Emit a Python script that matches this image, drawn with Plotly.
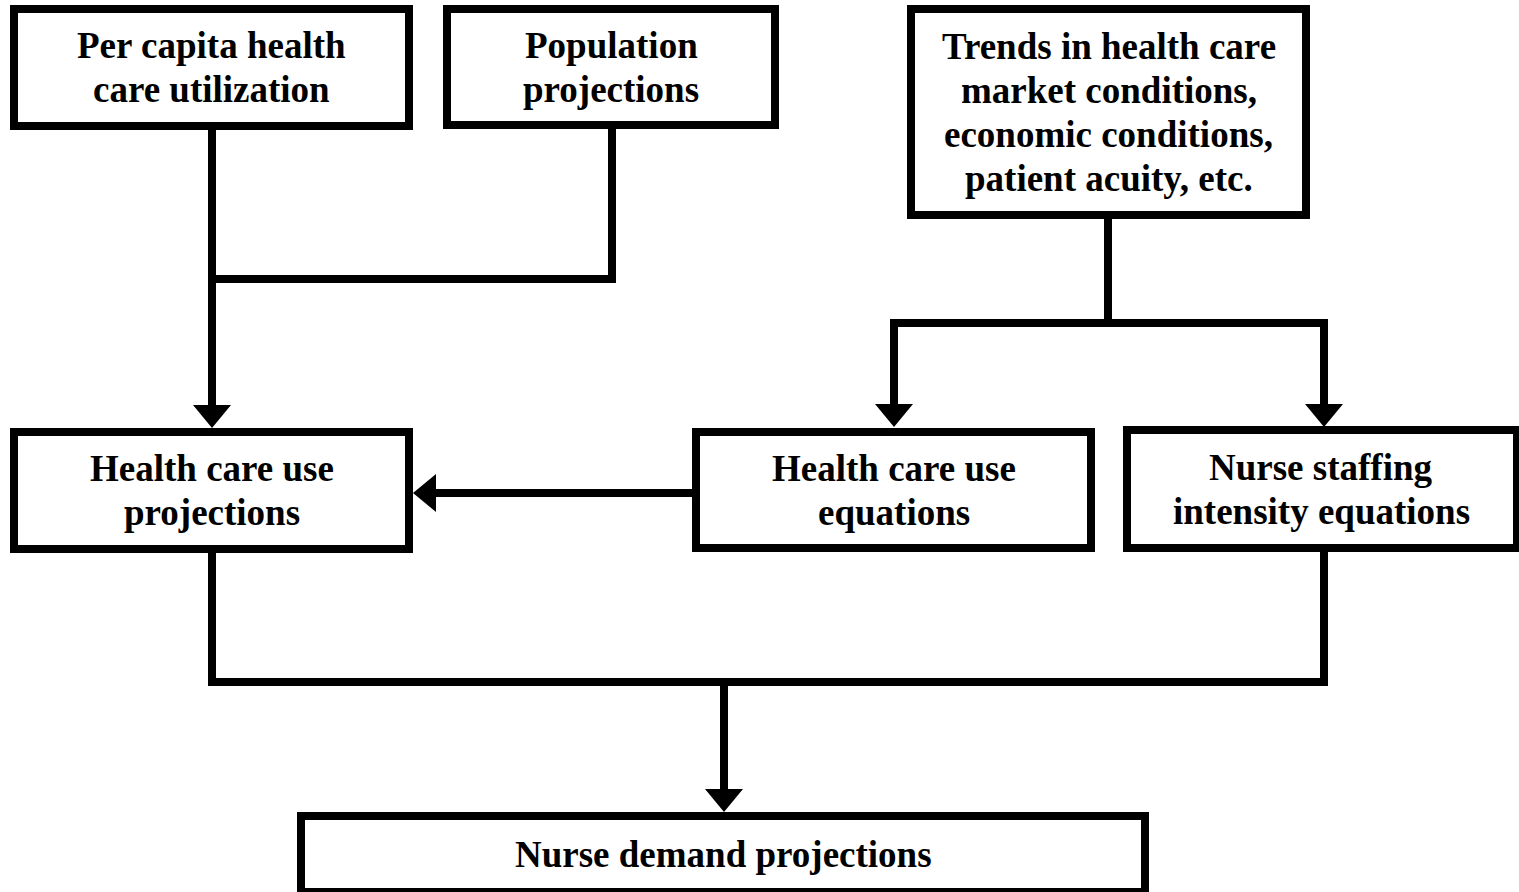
import plotly.graph_objects as go

# ---- content -------------------------------------------------------------
box_names = ["percap", "pop", "trends", "usep", "usee", "staff", "demand"]
box_lines = {
    "percap": ["Per capita health", "care utilization"],
    "pop": ["Population", "projections"],
    "trends": ["Trends in health care", "market conditions,",
               "economic conditions,", "patient acuity, etc."],
    "usep": ["Health care use", "projections"],
    "usee": ["Health care use", "equations"],
    "staff": ["Nurse staffing", "intensity equations"],
    "demand": ["Nurse demand projections"],
}

# ---- layout geometry (pixels, outer edges of each box) --------------------
W, H = 1519, 892
BORDER = 8
box_geom = {
    "percap": (10, 413, 5, 130),
    "pop": (443, 779, 5, 129),
    "trends": (907, 1310, 5, 219),
    "usep": (10, 413, 428, 553),
    "usee": (692, 1095, 428, 552),
    "staff": (1123, 1521, 426, 552),
    "demand": (297, 1149, 812, 896),
}
LINE_GAP = 44
FONT_SIZE = 37

# connector polylines (centre lines)
connectors = [
    [(212, 130), (212, 406)],
    [(612, 129), (612, 279), (212, 279)],
    [(1108, 219), (1108, 323), (894, 323), (894, 404)],
    [(1108, 323), (1324, 323), (1324, 404)],
    [(692, 493), (434, 493)],
    [(212, 553), (212, 682), (1324, 682), (1324, 552)],
    [(724, 682), (724, 789)],
]
# arrowheads: (tip x, tip y, direction)
arrows = [(212, 428, "down"), (894, 427, "down"), (1324, 427, "down"),
          (413, 493, "left"), (724, 812, "down")]
HEAD_HALF, HEAD_LEN = 19, 23

fig = go.Figure()
shapes = []
for name in box_names:
    x0, x1, y0, y1 = box_geom[name]
    h = BORDER / 2
    shapes.append(dict(type="rect", xref="x", yref="y",
                       x0=x0 + h, x1=x1 - h, y0=y0 + h, y1=y1 - h,
                       line=dict(color="black", width=BORDER),
                       fillcolor="white", layer="above"))
for pts in connectors:
    path = "M" + " L".join(f"{x},{y}" for x, y in pts)
    shapes.append(dict(type="path", xref="x", yref="y", path=path,
                       line=dict(color="black", width=BORDER), layer="below"))
for tx, ty, d in arrows:
    if d == "down":
        p = f"M{tx-HEAD_HALF},{ty-HEAD_LEN} L{tx+HEAD_HALF},{ty-HEAD_LEN} L{tx},{ty} Z"
    else:
        p = f"M{tx+HEAD_LEN},{ty-HEAD_HALF} L{tx+HEAD_LEN},{ty+HEAD_HALF} L{tx},{ty} Z"
    shapes.append(dict(type="path", xref="x", yref="y", path=p,
                       fillcolor="black", line=dict(width=0), layer="above"))

annotations = []
for name in box_names:
    x0, x1, y0, y1 = box_geom[name]
    cx = (x0 + min(x1, W + 2)) / 2
    if name == "staff":
        cx = (x0 + 1519) / 2
    cy = (y0 + y1) / 2
    lines = box_lines[name]
    n = len(lines)
    for i, t in enumerate(lines):
        yc = cy + (i - (n - 1) / 2) * LINE_GAP
        annotations.append(dict(x=cx, y=yc, xref="x", yref="y", text=t,
                                showarrow=False, xanchor="center", yanchor="middle",
                                font=dict(family="Liberation Serif, Times New Roman, serif",
                                          size=FONT_SIZE, color="black", weight="bold")))

fig.update_layout(
    width=W, height=H, autosize=False,
    margin=dict(l=0, r=0, t=0, b=0, pad=0),
    paper_bgcolor="white", plot_bgcolor="white",
    xaxis=dict(range=[0, W], visible=False, fixedrange=True),
    yaxis=dict(range=[H, 0], visible=False, fixedrange=True),
    shapes=shapes, annotations=annotations, showlegend=False,
)
fig.write_html("out.html", config={"displayModeBar": False},
               post_script="document.body.style.margin='0';")
